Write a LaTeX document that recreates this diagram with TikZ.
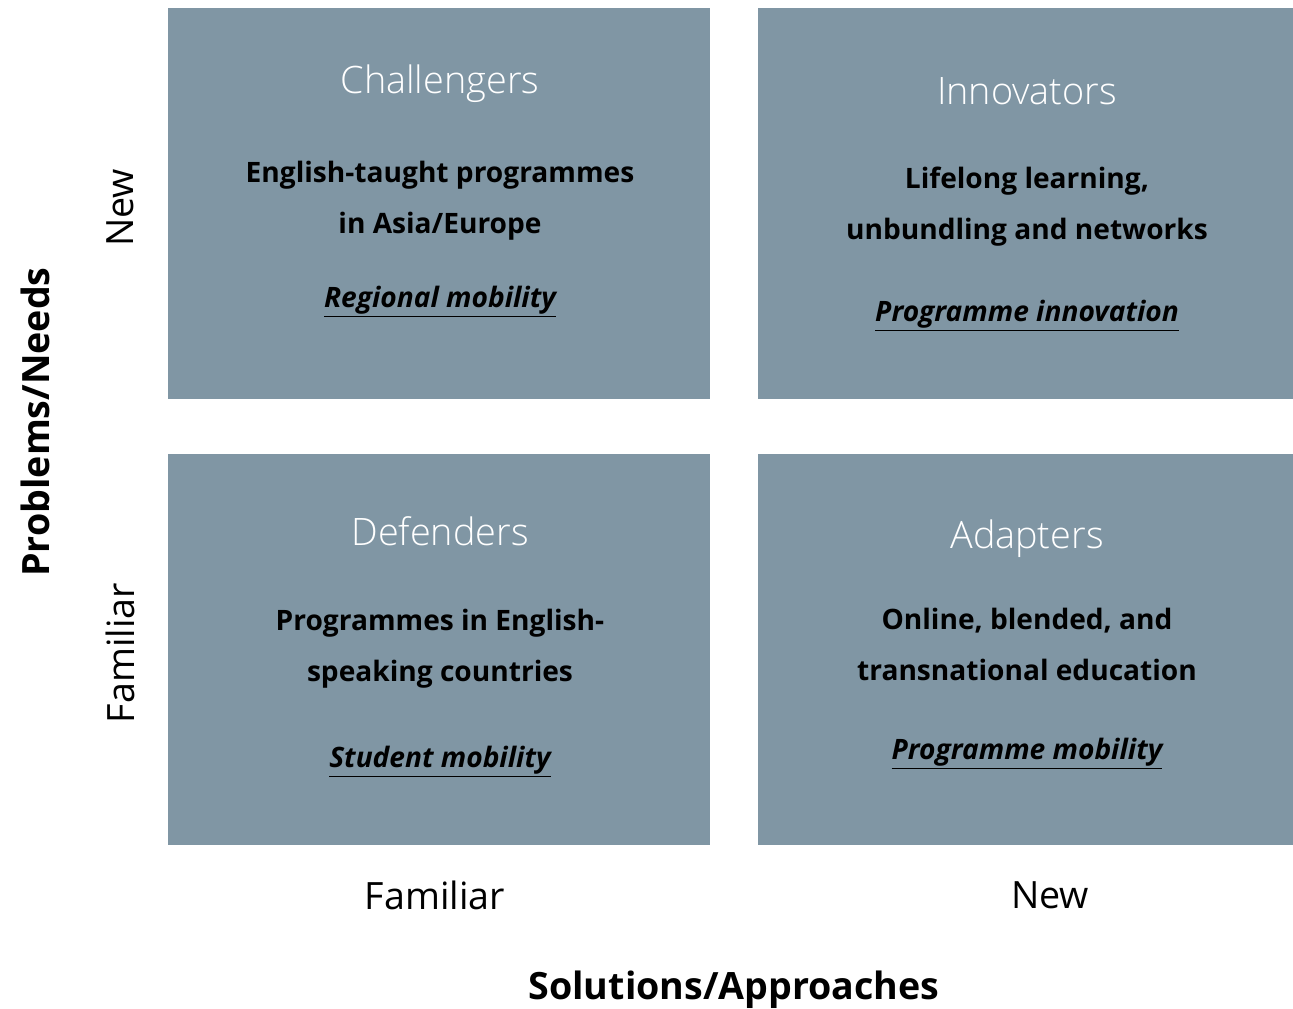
\documentclass[tikz,border=0pt]{standalone}
\usepackage{fontspec}
\setmainfont{Open Sans}
\newfontfamily\lightfont{Open Sans Light}
\usepackage{tikz}

\definecolor{quadfill}{HTML}{8096A4}

\tikzset{
    quad/.style={fill=quadfill, draw=none, anchor=north west, inner sep=0pt},
    quadtitle/.style={text=white, font=\lightfont\fontsize{21.5}{26}\selectfont},
    quadbody/.style={font=\bfseries\fontsize{16}{29}\selectfont, align=center},
    quadtag/.style={font=\bfseries\itshape\fontsize{16}{19}\selectfont},
    axislabel/.style={font=\fontsize{21.4}{25}\selectfont},
    axistitle/.style={font=\bfseries\fontsize{21.4}{25}\selectfont}
}

\begin{document}
\begin{tikzpicture}[x=0.02cm, y=-0.02cm]
    \useasboundingbox (0, 0) rectangle (1293, 1008);
    % quadrants
    \node[quad, minimum width=542*0.02cm, minimum height=391*0.02cm] (challengers) at (168, 8) {};
    \node[quad, minimum width=535*0.02cm, minimum height=391*0.02cm] (innovators) at (758, 8) {};
    \node[quad, minimum width=542*0.02cm, minimum height=391*0.02cm] (defenders) at (168, 454) {};
    \node[quad, minimum width=535*0.02cm, minimum height=391*0.02cm] (adapters) at (758, 454) {};

    % top left
    \node[quadtitle] (challengers title) at (440, 84) {Challengers};
    \node[quadbody] (challengers body) at (440, 201) {English-taught programmes\\in Asia/Europe};
    \node[quadtag] (challengers tag) at (440, 302) {\underline{Regional mobility}};
    % top right
    \node[quadtitle] (innovators title) at (1027, 91) {Innovators};
    \node[quadbody] (innovators body) at (1027, 207) {Lifelong learning,\\unbundling and networks};
    \node[quadtag] (innovators tag) at (1027, 316) {\underline{Programme innovation}};
    % bottom left
    \node[quadtitle] (defenders title) at (440, 531) {Defenders};
    \node[quadbody] (defenders body) at (440, 649) {Programmes in English-\\speaking countries};
    \node[quadtag] (defenders tag) at (440, 762) {\underline{Student mobility}};
    % bottom right
    \node[quadtitle] (adapters title) at (1027, 539) {Adapters};
    \node[quadbody] (adapters body) at (1027, 644) {Online, blended, and\\transnational education};
    \node[quadtag] (adapters tag) at (1027, 754) {\underline{Programme mobility}};

    % axes
    \node[axislabel, rotate=90] (new y) at (120, 208) {New};
    \node[axislabel, rotate=90] (familiar y) at (120, 653) {Familiar};
    \node[axistitle, rotate=90] (problems) at (35, 422) {Problems/Needs};
    \node[axislabel] (familiar x) at (435, 895) {Familiar};
    \node[axislabel] (new x) at (1050, 895) {New};
    \node[axistitle] (solutions) at (734, 990) {Solutions/Approaches};
\end{tikzpicture}
\end{document}
